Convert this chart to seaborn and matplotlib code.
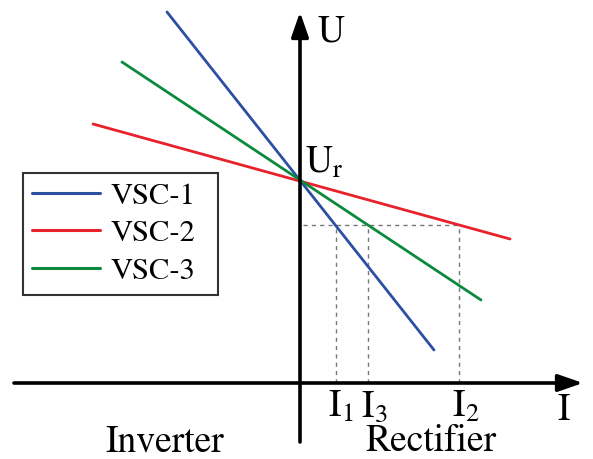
import matplotlib
matplotlib.use("Agg")
import matplotlib.pyplot as plt
import seaborn as sns
import pandas as pd

# ---- data (arbitrary units) ----
vsc_names = ["VSC-1", "VSC-2", "VSC-3"]
i_start = [-1.33, -2.07, -1.78]
i_end = [1.34, 2.10, 1.81]
u_start = [3.71, 2.59, 3.21]
u_end = [0.33, 1.44, 0.83]
u_ref = 2.03
u_set = 1.58
op_labels = ["1", "2", "3"]
op_currents = [0.355, 1.59, 0.68]
colors = ["#2B4FA3", "#E8222B", "#0B8A3E"]

sns.set_theme(style="white")
plt.rcParams["font.family"] = ["STIXGeneral", "DejaVu Serif"]
plt.rcParams["mathtext.fontset"] = "stix"
plt.rcParams["text.color"] = "black"

rows = []
for n, x0, x1, y0, y1 in zip(vsc_names, i_start, i_end, u_start, u_end):
    rows.append({"VSC": n, "I": x0, "U": y0})
    rows.append({"VSC": n, "I": x1, "U": y1})
df = pd.DataFrame(rows)

W, H = 593, 459
fig = plt.figure(figsize=(W / 100, H / 100), dpi=100)
ax = fig.add_axes([0, 0, 1, 1])
ax.set_xlim(-3.00, 2.93)
ax.set_ylim(-0.76, 3.83)
ax.set_axis_off()

sns.lineplot(data=df, x="I", y="U", hue="VSC", palette=dict(zip(vsc_names, colors)),
             linewidth=2.0, ax=ax, legend=True, zorder=3)

# dashed guide lines
ax.plot([0.03, max(op_currents)], [u_set, u_set], ls=(0, (3, 3)), color="#777777", lw=1.0, zorder=2)
for xc in op_currents:
    ax.plot([xc, xc], [0, u_set], ls=(0, (3, 3)), color="#777777", lw=1.0, zorder=2)

# axes with arrows
arrow = dict(arrowstyle="-|>,head_length=0.75,head_width=0.26", lw=2.6, color="black",
             shrinkA=0, shrinkB=0, mutation_scale=20)
ax.annotate("", xy=(2.83, 0), xytext=(-2.86, 0), arrowprops=arrow, zorder=4)
ax.annotate("", xy=(0, 3.71), xytext=(0, -0.59), arrowprops=arrow, zorder=4)

fs = 27
ax.text(0.18, 3.41, "U", fontsize=fs, ha="left", va="baseline", color="black")
ax.text(2.57, -0.37, "I", fontsize=fs, ha="left", va="baseline", color="black")
ax.text(0.05, 2.10, r"$\mathrm{U_r}$", fontsize=fs, ha="left", va="baseline", color="black")
for lab, xc in zip(op_labels, op_currents):
    ax.text(xc - 0.07, -0.34, r"$\mathrm{I_%s}$" % lab, fontsize=fs, ha="left", va="baseline",
            color="black")
ax.text(-1.95, -0.68, "Inverter", fontsize=fs, ha="left", va="baseline", color="black")
ax.text(0.65, -0.68, "Rectifier", fontsize=fs, ha="left", va="baseline", color="black")

top = 1 - 173 / H
leg = ax.legend(loc="upper left", bbox_to_anchor=(23 / W, top - 0.1, 195 / W, 0.1),
                mode="expand", borderaxespad=0, fontsize=22, frameon=True, fancybox=False,
                handlelength=2.22, handletextpad=0.33, labelspacing=0.3,
                borderpad=0.3, title=None)
leg.get_frame().set_edgecolor("black")
leg.get_frame().set_linewidth(1.5)
for h in leg.get_lines():
    h.set_linewidth(2.2)
for t in leg.get_texts():
    t.set_color("black")

fig.savefig("out.png", dpi=100)
